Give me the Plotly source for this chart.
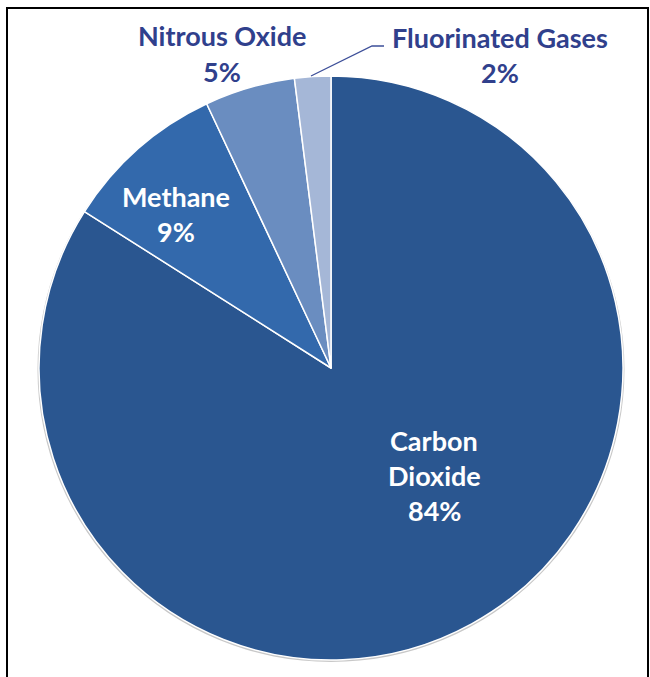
import plotly.graph_objects as go

W, H = 650, 677

labels = ["Carbon Dioxide", "Methane", "Nitrous Oxide", "Fluorinated Gases"]
values = [84, 9, 5, 2]
colors = ["#2A5690", "#3369AC", "#6A8DC0", "#A5B7D7"]

# label text lines (from labels/values)
label_lines = [
    ["Carbon", "Dioxide", f"{values[0]}%"],
    ["Methane", f"{values[1]}%"],
    ["Nitrous Oxide", f"{values[2]}%"],
    ["Fluorinated Gases", f"{values[3]}%"],
]
label_colors = ["white", "white", "#30408C", "#30408C"]
label_pos = [(434, 440), (176, 196), (222, 36), (500, 37)]
line_gap = 35.5

cx, cy, r = 331, 368, 292

def px(x):
    return x / W

def py(y):
    return 1 - y / H

fig = go.Figure(go.Pie(
    labels=labels,
    values=values,
    sort=False,
    direction="clockwise",
    rotation=0,
    marker=dict(colors=colors, line=dict(color="white", width=1.5)),
    textinfo="none",
    hoverinfo="label+percent",
    domain=dict(x=[px(cx - r), px(cx + r)], y=[py(cy + r), py(cy - r)]),
    showlegend=False,
))

annotations = []
for lines, col, (x, y) in zip(label_lines, label_colors, label_pos):
    for i, t in enumerate(lines):
        annotations.append(dict(
            x=px(x), y=py(y + i * line_gap), xref="paper", yref="paper",
            text=f"<b>{t}</b>", showarrow=False,
            xanchor="center", yanchor="middle",
            font=dict(family="Lato", size=27, color=col),
        ))

shapes = [
    # soft shadow ring around the pie
    dict(type="circle", xref="paper", yref="paper", layer="below",
         x0=px(cx - r - 1.5), x1=px(cx + r + 1.5),
         y0=py(cy + r + 2), y1=py(cy - r + 1),
         line=dict(width=0), fillcolor="#C8C8C8"),
    # outer frame
    dict(type="rect", xref="paper", yref="paper",
         x0=px(7), x1=px(648), y0=-0.02, y1=py(8),
         line=dict(color="black", width=2), fillcolor="rgba(0,0,0,0)"),
    # leader line for Fluorinated Gases
    dict(type="path", xref="paper", yref="paper",
         path=f"M {px(311)} {py(76)} L {px(372)} {py(46)} L {px(384)} {py(46)}",
         line=dict(color="#3D4F99", width=1.3)),
]

fig.update_layout(
    width=W, height=H,
    margin=dict(l=0, r=0, t=0, b=0),
    paper_bgcolor="white",
    plot_bgcolor="white",
    annotations=annotations,
    shapes=shapes,
)

fig.write_html("out.html")
